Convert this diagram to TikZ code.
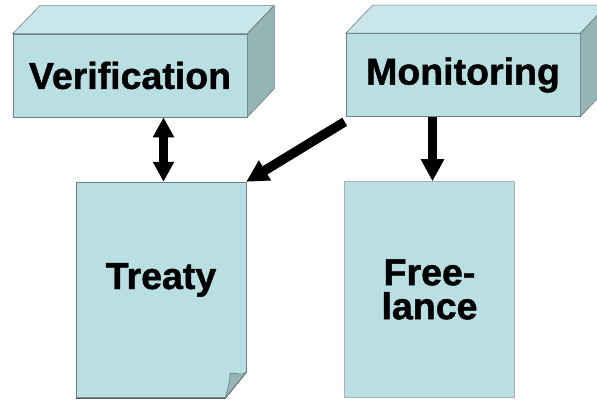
\documentclass[tikz,border=0pt]{standalone}
\usepackage{fontspec}
\setmainfont{Liberation Sans}[BoldFeatures={FakeBold=1.2}]
\usetikzlibrary{arrows.meta,calc}
\definecolor{front}{HTML}{B9DFE3}
\definecolor{topf}{HTML}{C9E7EA}
\definecolor{sidef}{HTML}{94B4B6}
\definecolor{edge}{HTML}{6E7E80}
\tikzset{
  face/.style={fill=front, draw=edge, line width=0.6pt, inner sep=0pt},
  boxface/.style={face, minimum width=234pt, minimum height=83pt,
    font=\fontsize{37.5}{37.5}\selectfont\bfseries},
  pageface/.style={inner sep=0pt, minimum width=170pt, minimum height=216pt,
    font=\fontsize{37.5}{34}\selectfont\bfseries, align=center},
  topface/.style={fill=topf, draw=edge, line width=0.6pt},
  sideface/.style={fill=sidef, draw=edge, line width=0.6pt},
  bigarrow/.style={line width=9.5pt, black, -{Triangle[length=22pt,width=22pt]}},
  dblarrow/.style={line width=8.5pt, black, {Triangle[length=20pt,width=20pt]}-{Triangle[length=20pt,width=20pt]}}
}
\begin{document}
\begin{tikzpicture}[x=1pt,y=-1pt]
\useasboundingbox (0,0) rectangle (597,401);
% Verification box
\node[boxface] (verif) at (130,75.5) {Verification};
\draw[topface] (verif.north west) -- ++(27,-28) -- ++(234,0) -- (verif.north east) -- cycle;
\draw[sideface] (verif.north east) -- ++(27,-28) -- ++(0,83) -- (verif.south east) -- cycle;
% Monitoring box
\node[boxface] (mon) at (463,75) {Monitoring};
\draw[topface] (mon.north west) -- ++(27,-28) -- ++(234,0) -- (mon.north east) -- cycle;
\draw[sideface] (mon.north east) -- ++(27,-28) -- ++(0,83) -- (mon.south east) -- cycle;
% Treaty page with folded corner
\node[pageface] (treaty) at (161,290) {};
\fill[front] (treaty.north west) -- (treaty.north east) -- ($(treaty.south east)+(0,-26)$)
  -- ($(treaty.south east)+(-21,0)$) -- (treaty.south west) -- cycle;
\draw[edge, line width=0.6pt] (treaty.north west) -- (treaty.north east) -- ($(treaty.south east)+(0,-26)$);
\draw[black, line width=1pt] ($(treaty.south east)+(0,-26)$) -- ($(treaty.south east)+(-21,0)$) -- (treaty.south west);
\draw[edge, line width=0.6pt] (treaty.south west) -- (treaty.north west);
\draw[sideface] ($(treaty.south east)+(0,-26)$) .. controls ($(treaty.south east)+(-6,-22)$) and ($(treaty.south east)+(-10,-26)$) .. ($(treaty.south east)+(-16,-25)$)
  .. controls ($(treaty.south east)+(-17,-15)$) .. ($(treaty.south east)+(-21,0)$) -- cycle;
\node[pageface, anchor=center] (treatytext) at ($(treaty.center)+(0,-10)$) {Treaty};
% Freelance page
\node[pageface, fill=front, draw=edge!60, line width=0.5pt] (free) at (429.5,289.5) {Free-\\lance};
% Arrows
\draw[dblarrow] ([xshift=2.5pt]treaty.north |- verif.south) -- ([xshift=2.5pt]treaty.north);
\draw[bigarrow] ([shift={(-1,5)}]mon.south west) -- (treaty.north east);
\draw[bigarrow] ([xshift=3pt]free.north |- mon.south) -- ([xshift=3pt]free.north);
\end{tikzpicture}
\end{document}
